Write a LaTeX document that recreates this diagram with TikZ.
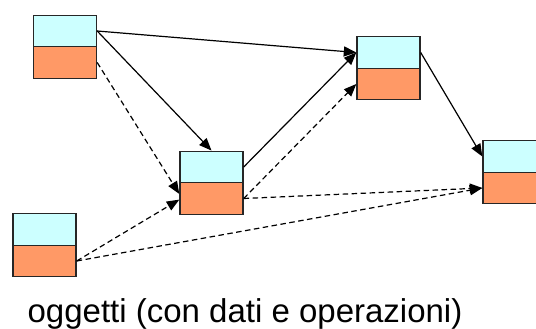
\documentclass[tikz,border=0pt]{standalone}
\usepackage{fontspec}
\setmainfont{Liberation Sans}
\usetikzlibrary{arrows.meta}
\definecolor{azzurro}{HTML}{CCFFFF}
\definecolor{arancio}{HTML}{FF9966}
\begin{document}
\begin{tikzpicture}[x=1pt,y=-1pt]
    \tikzset{dati/.style={draw=black!85, fill=azzurro, line width=1.4pt, minimum width=63pt, minimum height=31.5pt, inner sep=0pt}}
    \tikzset{operazioni/.style={dati, fill=arancio}}
    \tikzset{freccia/.style={line width=1.2pt, -{Triangle[length=12.5pt,width=10pt]}}}
    \tikzset{tratteggio/.style={freccia, dash pattern=on 5.5pt off 3.5pt}}
    \useasboundingbox (0,0) rectangle (536,329);
    \node[dati] (Ad) at (65, 31) {};
    \node[operazioni] (Ao) at (65, 62.5) {};
    \node[dati] (Bd) at (211.5, 167) {};
    \node[operazioni] (Bo) at (211.5, 198.5) {};
    \node[dati] (Cd) at (388.5, 52.5) {};
    \node[operazioni] (Co) at (388.5, 84) {};
    \node[dati] (Dd) at (514.5, 156.5) {};
    \node[operazioni] (Do) at (514.5, 188) {};
    \node[dati] (Ed) at (44.5, 229.5) {};
    \node[operazioni] (Eo) at (44.5, 261) {};
    \draw[freccia] (Ad.east) -- (Cd.west);
    \draw[freccia] (Ad.east) -- (Bd.north);
    \draw[freccia] (Bd.east) -- (Cd.west);
    \draw[freccia] (Cd.east) -- (Dd.west);
    \draw[tratteggio] (Ao.east) -- (Bo.172);
    \draw[tratteggio] (Eo.east) -- (Bo.182);
    \draw[tratteggio] (Bo.east) -- (Co.west);
    \draw[tratteggio] (Bo.east) -- (Do.west);
    \draw[tratteggio] (Eo.east) -- (Do.west);
    \node[anchor=base, inner sep=0pt, font=\fontsize{33}{40}\selectfont] (testo) at (245, 322.5) {oggetti (con dati e operazioni)};
  \end{tikzpicture}
\end{document}
